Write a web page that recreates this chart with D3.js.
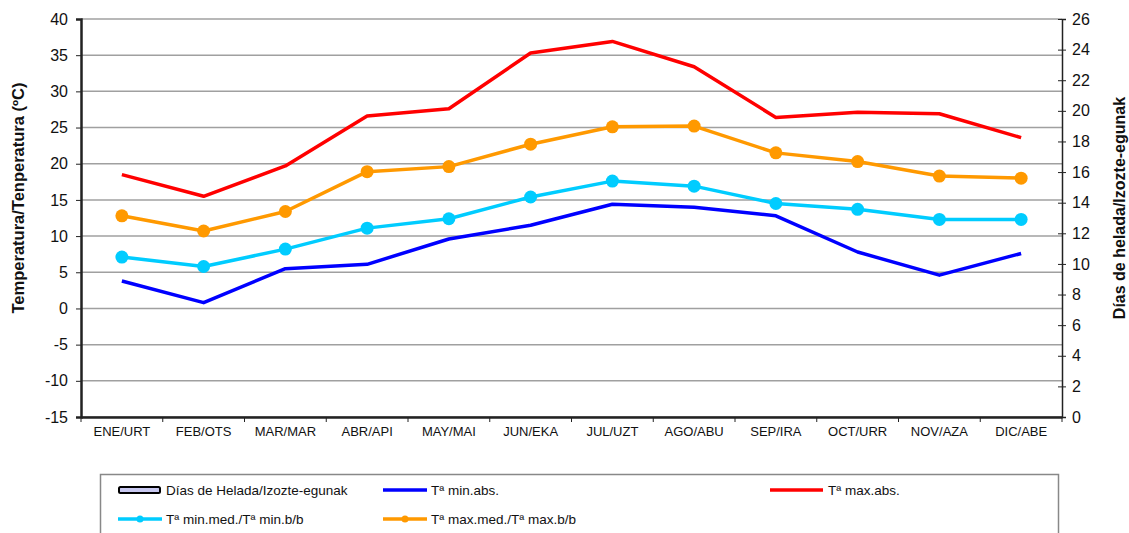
<!DOCTYPE html>
<html lang="es">
<head>
  <meta charset="UTF-8">
  <title>Temperaturas</title>
  <script src="https://cdn.jsdelivr.net/npm/d3@7"></script>
  <style>
    body { margin: 0; background: #fff; }
    text { font-family: "Liberation Sans", Arial, sans-serif; fill: #111; }
    .grid line { stroke: #a0a0a0; stroke-width: 1.5px; }
    .axis path, .axis line { stroke: #222; }
    .line { fill: none; stroke-width: 3.5px; stroke-linejoin: round; }
  </style>
</head>
<body>
  <svg width="1129" height="533"></svg>
  <script>
    var months = ["ENE/URT", "FEB/OTS", "MAR/MAR", "ABR/API", "MAY/MAI", "JUN/EKA",
                  "JUL/UZT", "AGO/ABU", "SEP/IRA", "OCT/URR", "NOV/AZA", "DIC/ABE"];
    var frostDays = [0, 0, 0, 0, 0, 0, 0, 0, 0, 0, 0, 0];
    var minAbs = [3.8, 0.8, 5.5, 6.1, 9.6, 11.5, 14.4, 14.0, 12.8, 7.8, 4.6, 7.6];
    var maxAbs = [18.5, 15.5, 19.7, 26.6, 27.6, 35.3, 36.9, 33.4, 26.4, 27.1, 26.9, 23.6];
    var minMed = [7.1, 5.8, 8.2, 11.1, 12.4, 15.4, 17.6, 16.9, 14.5, 13.7, 12.3, 12.3];
    var maxMed = [12.8, 10.7, 13.4, 18.9, 19.6, 22.7, 25.1, 25.2, 21.5, 20.3, 18.3, 18.0];
    var leftTicks = [40, 35, 30, 25, 20, 15, 10, 5, 0, -5, -10, -15];
    var rightTicks = [0, 2, 4, 6, 8, 10, 12, 14, 16, 18, 20, 22, 24, 26];

    var svg = d3.select("svg"),
        margin = {top: 19, right: 67, bottom: 116, left: 81},
        width = 1129 - margin.left - margin.right,
        height = 533 - margin.top - margin.bottom;

    var g = svg.append("g")
        .attr("transform", "translate(" + margin.left + "," + margin.top + ")");

    var x = d3.scaleBand().domain(months).range([0, width]);
    var y = d3.scaleLinear().domain([-15, 40]).range([height, 0]);
    var y2 = d3.scaleLinear().domain([0, 26]).range([height, 0]);

    // rejilla
    g.append("g")
        .attr("class", "grid")
        .selectAll("line")
        .data(leftTicks)
        .enter().append("line")
        .attr("x1", 0)
        .attr("x2", width)
        .attr("y1", function(d) { return y(d); })
        .attr("y2", function(d) { return y(d); });

    // barras de dias de helada
    g.append("g").selectAll("rect")
        .data(frostDays)
        .enter().append("rect")
        .attr("x", function(d, i) { return x(months[i]) + x.bandwidth() * 0.2; })
        .attr("width", x.bandwidth() * 0.6)
        .attr("y", function(d) { return y2(d); })
        .attr("height", function(d) { return height - y2(d); })
        .attr("fill", "#c8c8f0")
        .attr("stroke", "#000");

    // eje izquierdo (guion normal para los negativos)
    var ya = g.append("g")
        .attr("class", "axis")
        .call(d3.axisLeft(y).tickValues(leftTicks).tickSize(5).tickPadding(8)
          .tickFormat(function(d) { return String(d); }));
    ya.select(".domain").attr("stroke-width", 2.5);
    ya.selectAll("text").style("font-size", "16px");

    // eje derecho
    var yb = g.append("g")
        .attr("class", "axis")
        .attr("transform", "translate(" + width + ",0)")
        .call(d3.axisRight(y2).tickValues(rightTicks).tickSize(4).tickPadding(6));
    yb.select(".domain").attr("stroke-width", 1.5);
    yb.selectAll(".tick line").attr("x1", -4);
    yb.selectAll("text").style("font-size", "16px");

    // eje x
    var xa = g.append("g")
        .attr("class", "axis")
        .attr("transform", "translate(0," + height + ")")
        .call(d3.axisBottom(x).tickSize(0).tickPadding(10));
    xa.select(".domain").attr("stroke-width", 2.5);
    xa.selectAll("text").style("font-size", "13px");
    xa.selectAll(".sep")
        .data(d3.range(months.length + 1))
        .enter().append("line")
        .attr("x1", function(i) { return i * x.step(); })
        .attr("x2", function(i) { return i * x.step(); })
        .attr("y1", 0)
        .attr("y2", 5)
        .attr("stroke", "#222");

    // titulos
    svg.append("text")
        .attr("transform", "translate(24," + (margin.top + height / 2 - 20) + ") rotate(-90)")
        .attr("text-anchor", "middle")
        .style("font-size", "16.5px")
        .style("font-weight", "bold")
        .text("Temperatura/Tenperatura (ºC)");

    svg.append("text")
        .attr("transform", "translate(1125," + (margin.top + height / 2 - 10) + ") rotate(-90)")
        .attr("text-anchor", "middle")
        .style("font-size", "16px")
        .style("font-weight", "bold")
        .text("Días de helada/Izozte-egunak");

    // lineas
    var line = d3.line()
        .x(function(d, i) { return x(months[i]) + x.bandwidth() / 2; })
        .y(function(d) { return y(d); });

    var series = [
      {values: minAbs, color: "#0000ff", dots: false},
      {values: maxAbs, color: "#ff0000", dots: false},
      {values: minMed, color: "#00ccff", dots: true},
      {values: maxMed, color: "#ff9900", dots: true}
    ];

    series.forEach(function(s) {
      g.append("path")
          .datum(s.values)
          .attr("class", "line")
          .attr("stroke", s.color)
          .attr("d", line);
      if (s.dots) {
        g.append("g").selectAll("circle")
            .data(s.values)
            .enter().append("circle")
            .attr("cx", function(d, i) { return x(months[i]) + x.bandwidth() / 2; })
            .attr("cy", function(d) { return y(d); })
            .attr("r", 6.5)
            .attr("fill", s.color);
      }
    });

    // leyenda
    var legend = svg.append("g");
    legend.append("rect")
        .attr("x", 100.5).attr("y", 474.5)
        .attr("width", 958).attr("height", 70)
        .attr("fill", "#fff")
        .attr("stroke", "#888")
        .attr("stroke-width", 1.5);

    var items = [
      {label: "Días de Helada/Izozte-egunak", type: "bar", color: "#c8c8f0", x: 118, y: 490},
      {label: "Tª min.abs.", type: "line", color: "#0000ff", x: 383, y: 490},
      {label: "Tª max.abs.", type: "line", color: "#ff0000", x: 770, y: 490},
      {label: "Tª min.med./Tª min.b/b", type: "dot", color: "#00ccff", x: 118, y: 519},
      {label: "Tª max.med./Tª max.b/b", type: "dot", color: "#ff9900", x: 383, y: 519}
    ];

    items.forEach(function(it) {
      var li = legend.append("g").attr("transform", "translate(" + it.x + "," + it.y + ")");
      if (it.type === "bar") {
        li.append("rect")
            .attr("x", 1).attr("y", -3)
            .attr("width", 41).attr("height", 6)
            .attr("rx", 1.5)
            .attr("fill", it.color)
            .attr("stroke", "#000")
            .attr("stroke-width", 2);
      } else {
        li.append("line")
            .attr("x1", 0).attr("x2", it.x > 700 ? 53 : 44)
            .attr("stroke", it.color)
            .attr("stroke-width", 3.5);
        if (it.type === "dot") {
          li.append("circle").attr("cx", 22).attr("r", 3.5).attr("fill", it.color);
        }
      }
      li.append("text")
          .attr("x", it.x > 700 ? 58 : 48)
          .attr("dy", "0.35em")
          .style("font-size", "13.5px")
          .text(it.label);
    });
  </script>
</body>
</html>
